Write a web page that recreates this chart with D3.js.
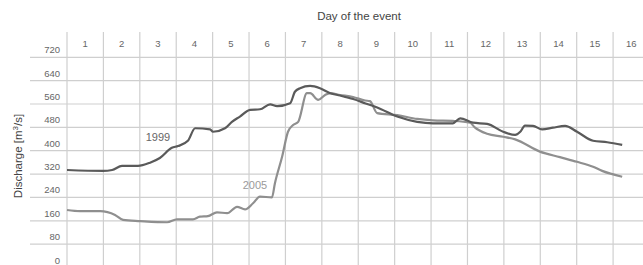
<!DOCTYPE html>
<html>
<head>
<meta charset="utf-8">
<script src="https://cdn.jsdelivr.net/npm/d3@7"></script>
<style>
  body { margin: 0; background: #fff; }
  text { font-family: "Liberation Sans", Arial, sans-serif; }
</style>
</head>
<body>
<div id="chart"></div>
<script>
// day labels across the top and discharge ticks on the left
var days = d3.range(1, 17);
var yTicks = [0, 80, 160, 240, 320, 400, 480, 560, 640, 720];

// [day of event (fractional), discharge m3/s]
var flood1999 = [
  [0, 334], [0.99, 331], [1.24, 334], [1.51, 348], [1.95, 348], [2.28, 359],
  [2.55, 375], [2.88, 410], [3.05, 416], [3.32, 434], [3.52, 477], [3.93, 473],
  [4.01, 465], [4.34, 477], [4.53, 499], [4.75, 517], [5.03, 540], [5.3, 542],
  [5.58, 559], [5.77, 553], [6.13, 563], [6.26, 602], [6.4, 614], [6.68, 622],
  [6.95, 614], [7.23, 597], [7.5, 589], [7.86, 577], [8.2, 562], [8.52, 548],
  [9.07, 517], [9.62, 499], [10.05, 494], [10.6, 494], [10.8, 511], [11.15, 496],
  [11.54, 492], [11.98, 465], [12.31, 454], [12.45, 465], [12.58, 486], [12.8, 485],
  [13.05, 473], [13.35, 479], [13.68, 485], [14.01, 465], [14.45, 434], [14.84, 429],
  [15.25, 420]
];

var flood2005 = [
  [0, 197], [0.36, 193], [0.91, 193], [1.32, 180], [1.54, 163], [2.01, 159],
  [2.75, 155], [3.02, 165], [3.46, 165], [3.65, 174], [3.87, 176], [4.12, 189],
  [4.4, 186], [4.67, 208], [4.89, 199], [5.11, 220], [5.3, 243], [5.63, 240],
  [5.71, 288], [5.91, 380], [6.07, 465], [6.21, 488], [6.35, 499], [6.59, 597],
  [6.68, 597], [6.9, 574], [7.09, 591], [7.23, 597], [7.5, 591], [7.86, 584],
  [8.19, 572], [8.32, 570], [8.52, 529], [9.07, 522], [9.62, 509], [10.05, 504],
  [10.6, 502], [11.07, 496], [11.2, 480], [11.54, 458], [11.98, 448], [12.31, 439],
  [12.99, 397], [13.54, 378], [14.01, 362], [14.45, 345], [14.7, 331], [15.25, 311]
];

var width = 643, height = 265;

var x = d3.scaleLinear().domain([0, 16]).range([67, 649.5]);
var y = d3.scaleLinear().domain([0, 720]).range([267.5, 57.3]);

var svg = d3.select("#chart").append("svg")
  .attr("width", width)
  .attr("height", height);

// grid
svg.append("g").selectAll("line.v")
  .data(d3.range(0, 17))
  .enter().append("line")
  .attr("x1", d => x(d)).attr("x2", d => x(d))
  .attr("y1", 32).attr("y2", height)
  .attr("stroke", "#cfcfcf").attr("stroke-width", 1.2);

svg.append("g").selectAll("line.h")
  .data(yTicks)
  .enter().append("line")
  .attr("x1", 30).attr("x2", width)
  .attr("y1", d => y(d)).attr("y2", d => y(d))
  .attr("stroke", "#cfcfcf").attr("stroke-width", 1.2);

// tick labels
svg.append("g").selectAll("text")
  .data(yTicks)
  .enter().append("text")
  .attr("x", 60)
  .attr("y", d => y(d) - 4)
  .attr("text-anchor", "end")
  .attr("font-size", 9.5)
  .attr("fill", "#666")
  .text(d => d);

svg.append("g").selectAll("text")
  .data(days)
  .enter().append("text")
  .attr("x", d => x(d - 0.5))
  .attr("y", 47)
  .attr("text-anchor", "middle")
  .attr("font-size", 9.5)
  .attr("fill", "#666")
  .text(d => d);

// titles
svg.append("text")
  .attr("x", 359).attr("y", 20)
  .attr("text-anchor", "middle")
  .attr("font-size", 11.5)
  .attr("fill", "#444")
  .text("Day of the event");

var yt = svg.append("text")
  .attr("transform", "translate(22,156) rotate(-90)")
  .attr("text-anchor", "middle")
  .attr("font-size", 11.5)
  .attr("fill", "#444");
yt.append("tspan").text("Discharge [m");
yt.append("tspan").attr("font-size", 8).attr("dy", -4).text("3");
yt.append("tspan").attr("dy", 4).text("/s]");

// series
var line = d3.line()
  .x(d => x(d[0]))
  .y(d => y(d[1]))
  .curve(d3.curveMonotoneX);

svg.append("path")
  .datum(flood2005)
  .attr("d", line)
  .attr("fill", "none")
  .attr("stroke", "#8f8f8f")
  .attr("stroke-width", 2.2);

svg.append("path")
  .datum(flood1999)
  .attr("d", line)
  .attr("fill", "none")
  .attr("stroke", "#5a5a5a")
  .attr("stroke-width", 2.2);

// series labels
svg.append("text")
  .attr("x", 158).attr("y", 141)
  .attr("text-anchor", "middle")
  .attr("font-size", 11)
  .attr("fill", "#666")
  .text("1999");

svg.append("text")
  .attr("x", 255).attr("y", 189)
  .attr("text-anchor", "middle")
  .attr("font-size", 11)
  .attr("fill", "#9a9a9a")
  .text("2005");
</script>
</body>
</html>
